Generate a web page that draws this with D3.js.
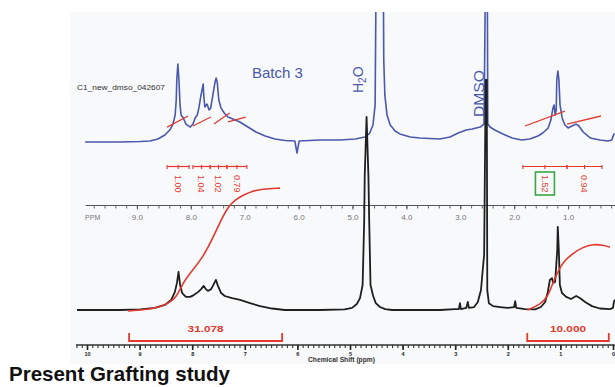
<!DOCTYPE html>
<html>
<head>
<meta charset="utf-8">
<script src="https://cdn.jsdelivr.net/npm/d3@7"></script>
<style>
  body { margin: 0; background: #fff; }
  svg { display: block; font-family: "Liberation Sans", Arial, sans-serif; }
</style>
</head>
<body>
<script>
// upper trace (batch 3), [ppm, intensity]
const blueSpectrum = [
  [9.96,0],[9.31,0],[8.94,0.4],[8.76,0.8],[8.61,2.3],[8.48,5.4],[8.39,9.2],[8.33,13.8],[8.29,20.8],[8.27,32.3],
  [8.26,47.7],[8.24,60],[8.22,47.7],[8.20,28.5],[8.18,20.8],[8.14,18.5],[8.09,13.8],[8.01,11.5],[7.96,13.8],
  [7.92,18.5],[7.88,20.8],[7.85,26.2],[7.81,36.2],[7.77,44.6],[7.76,36.2],[7.74,26.9],[7.70,29.2],[7.66,24.6],
  [7.63,26.2],[7.59,36.2],[7.55,46.2],[7.53,49.2],[7.51,46.2],[7.48,32.3],[7.44,26.2],[7.38,22.3],[7.31,19.2],
  [7.22,17.7],[7.09,15.4],[6.94,11.5],[6.79,7.7],[6.62,4.6],[6.44,2.3],[6.25,1.2],[6.07,0.8],[6.03,-8.5],
  [5.99,0.8],[5.60,1.5],[5.23,1.5],[4.95,2.3],[4.77,3.8],[4.68,6.9],[4.62,13.1],[4.58,28.5],[4.56,140],
  [4.43,140],[4.42,63.1],[4.40,36.2],[4.36,20.8],[4.30,13.1],[4.21,8.5],[4.12,6.2],[3.93,3.8],[3.75,3.1],
  [3.38,2.3],[3.19,3.8],[3.04,6.9],[2.89,9.2],[2.78,10],[2.63,11.5],[2.56,13.8],[2.53,140],[2.50,140],
  [2.49,13.8],[2.45,11.5],[2.36,9.2],[2.21,6.2],[2.04,3.1],[1.86,1.5],[1.71,2.3],[1.56,4.6],[1.47,6.9],
  [1.37,10.8],[1.32,16.9],[1.28,26.2],[1.26,28.5],[1.24,20.8],[1.22,24.6],[1.21,47.7],[1.19,54.6],[1.17,47.7],
  [1.15,28.5],[1.11,18.5],[1.06,13.1],[1.00,10.8],[0.93,12.3],[0.85,13.8],[0.80,12.3],[0.72,7.7],[0.59,3.1],
  [0.41,1.5],[0.26,0.8],[0.19,1.5],[0.15,6.2],[0.13,6.2]
];

// lower trace, [ppm, intensity]
const blackSpectrum = [
  [10.19,0],[9.37,0],[8.99,0.2],[8.71,0.7],[8.52,1.7],[8.40,3.4],[8.33,6.0],[8.29,9.1],[8.26,12.8],[8.23,8.4],
  [8.19,5.7],[8.12,4.4],[8.04,4.4],[7.97,5.0],[7.89,6.0],[7.83,7.0],[7.78,8.1],[7.74,7.0],[7.70,6.4],[7.64,7.0],
  [7.59,8.7],[7.55,10.1],[7.51,8.1],[7.45,5.7],[7.38,4.7],[7.24,4.0],[7.09,3.4],[6.90,2.3],[6.71,1.3],[6.48,0.5],
  [6.24,0],[5.57,0],[5.10,0.2],[4.96,0.7],[4.87,2.0],[4.81,4.0],[4.76,8.4],[4.73,30],[4.72,45],[4.685,64.8],
  [4.65,45],[4.635,30],[4.61,8.4],[4.56,4.7],[4.51,2.3],[4.43,1.0],[4.33,0.3],[4.20,0],[3.86,0],[3.29,0],[3.00,0.3],
  [2.93,0.3],[2.91,2.3],[2.89,0.3],[2.79,0.7],[2.76,2.7],[2.74,0.7],[2.64,1.0],[2.57,2.7],[2.51,6.7],[2.48,12.8],
  [2.45,18.5],[2.42,77.2],[2.40,77.2],[2.39,6.7],[2.36,2.3],[2.28,1.3],[2.15,1.0],[2.00,0.7],[1.88,1.0],[1.86,3.0],
  [1.84,0.7],[1.67,0.3],[1.48,0.2],[1.37,1.0],[1.29,2.7],[1.24,6.0],[1.20,10.1],[1.16,10.7],[1.14,9.1],[1.10,9.4],
  [1.06,20.1],[1.05,27.9],[1.03,20.1],[1.01,8.4],[0.97,5.7],[0.89,4.4],[0.80,3.7],[0.70,4.7],[0.63,4.0],[0.53,2.7],
  [0.40,1.3],[0.25,0.5],[0.06,0.3],[0,0.7],[-0.02,3.0],[-0.04,3.4]
];

// integral curves on the lower trace
const integralLeft = [
  [9.22,-0.3],[8.86,0],[8.48,1.7],[8.29,4.4],[8.19,8.7],[8.04,12.4],[7.79,17.8],[7.60,24.5],[7.47,29.5],
  [7.32,34.6],[7.19,36.9],[7.03,38.6],[6.86,39.9],[6.67,40.6],[6.33,40.9]
];
const integralRight = [
  [1.63,0],[1.39,1.7],[1.24,4.4],[1.16,8.4],[1.06,12.4],[0.95,16.1],[0.76,19.1],[0.57,21.1],[0.38,22.1],
  [0.19,21.8],[0.06,21.1]
];

// short integral slopes on the upper trace: [ppmStart, intStart, ppmEnd, intEnd]
const topIntegralSegs = [
  [8.44,11.5,8.05,20.0],[7.96,12.3,7.63,19.2],[7.57,13.8,7.28,22.3],[7.31,15.4,6.98,19.2],
  [1.80,12.3,1.06,23.8],[1.02,13.8,0.39,20.0]
];

// integration regions above the ppm axis
const topRegions = [[8.44,8.03],[7.96,7.64],[7.64,7.33],[7.33,6.96],[1.84,1.02],[1.02,0.37]];
const topRegionLabels = ["1.00","1.04","1.02","0.79","1.52","0.94"];
const boxedRegion = 4;

// integration brackets under the lower trace
const bottomBrackets = [[9.20,6.29],[1.63,0.08]];
const bottomBracketLabels = ["31.078","10.000"];

const ppmMajor = [9,8,7,6,5,4,3,2,1];
const bottomMajor = [10,9,8,7,6,5,4,3,2,1,0];

const W = 615, H = 387;
const blue = "#4a58ad", red = "#e3392f", ink = "#1f1f1f";

const svg = d3.select("body").append("svg").attr("width", W).attr("height", H);

svg.append("rect").attr("x", 70).attr("y", 12).attr("width", 545).attr("height", 352).attr("fill", "#f8f9fa");

svg.append("clipPath").attr("id", "clip")
  .append("rect").attr("x", 0).attr("y", 12).attr("width", W).attr("height", H - 12);

const xTop = d3.scaleLinear().domain([10, 0]).range([83, 622]);
const yTop = d3.scaleLinear().domain([0, 100]).range([142, 12]);
const xBot = d3.scaleLinear().domain([10, 0]).range([87, 613]);
const yBot = d3.scaleLinear().domain([0, 100]).range([310, 12]);

const lineTop = d3.line().x(d => xTop(d[0])).y(d => yTop(d[1]));
const lineBot = d3.line().x(d => xBot(d[0])).y(d => yBot(d[1]));
const curveBot = d3.line().x(d => xBot(d[0])).y(d => yBot(d[1])).curve(d3.curveBasis);

// ppm axis in the middle
const axisY = 205.5;
const topAxisG = svg.append("g").attr("transform", `translate(0,${axisY})`);
topAxisG.append("line")
  .attr("x1", xTop(9.95)).attr("x2", xTop(0.13))
  .attr("stroke", "#555").attr("stroke-width", 1.2);
topAxisG.append("g")
  .call(d3.axisBottom(xTop).tickValues(d3.range(9.8, 0.1, -0.2)).tickSize(3).tickFormat(""))
  .call(g => g.select(".domain").remove())
  .call(g => g.selectAll("line").attr("stroke", "#666"));
topAxisG.append("g")
  .call(d3.axisBottom(xTop).tickValues(ppmMajor).tickSize(4).tickPadding(5).tickFormat(d3.format(".1f")))
  .call(g => g.select(".domain").remove())
  .call(g => g.selectAll("line").attr("stroke", "#555"))
  .call(g => g.selectAll("text").attr("fill", "#777").attr("font-size", 8));
topAxisG.append("text")
  .attr("x", xTop(9.82)).attr("y", 14)
  .attr("text-anchor", "middle").attr("font-size", 7).attr("fill", "#777")
  .text("PPM");

// lower axis
const botY = 345;
const botAxisG = svg.append("g").attr("transform", `translate(0,${botY})`);
botAxisG.append("line")
  .attr("x1", xBot(10.21)).attr("x2", xBot(-0.04))
  .attr("stroke", "#333").attr("stroke-width", 1.4);
botAxisG.append("g")
  .call(d3.axisBottom(xBot).tickValues(d3.range(10.2, -0.05, -0.1)).tickSize(3).tickFormat(""))
  .call(g => g.select(".domain").remove())
  .call(g => g.selectAll("line").attr("stroke", "#333").attr("stroke-width", 1.1));
botAxisG.append("g")
  .call(d3.axisBottom(xBot).tickValues(bottomMajor).tickSize(5).tickPadding(2).tickFormat(d3.format("d")))
  .call(g => g.select(".domain").remove())
  .call(g => g.selectAll("line").attr("stroke", "#222").attr("stroke-width", 1.6))
  .call(g => g.selectAll("text").attr("fill", "#222").attr("font-size", 5.5).attr("font-weight", "bold"));
svg.append("text")
  .attr("x", 308).attr("y", 362)
  .attr("font-size", 7).attr("font-weight", "bold").attr("fill", "#333")
  .attr("textLength", 67).attr("lengthAdjust", "spacingAndGlyphs")
  .text("Chemical Shift (ppm)");

// spectra
const plot = svg.append("g").attr("clip-path", "url(#clip)");
plot.append("path").datum(blueSpectrum)
  .attr("d", lineTop).attr("fill", "none")
  .attr("stroke", blue).attr("stroke-width", 1.6).attr("stroke-linejoin", "round");
plot.append("path").datum(blackSpectrum)
  .attr("d", lineBot).attr("fill", "none")
  .attr("stroke", ink).attr("stroke-width", 1.8).attr("stroke-linejoin", "round");

// integral curves
plot.selectAll(".integral").data([integralLeft, integralRight]).enter().append("path")
  .attr("class", "integral")
  .attr("d", curveBot).attr("fill", "none")
  .attr("stroke", red).attr("stroke-width", 1.6);

svg.selectAll(".seg").data(topIntegralSegs).enter().append("line")
  .attr("class", "seg")
  .attr("x1", d => xTop(d[0])).attr("y1", d => yTop(d[1]))
  .attr("x2", d => xTop(d[2])).attr("y2", d => yTop(d[3]))
  .attr("stroke", red).attr("stroke-width", 1.3);

// integration rulers above the axis
const rulerY = 166.5;
const rg = svg.selectAll(".region").data(topRegions).enter().append("g").attr("class", "region");
rg.append("line")
  .attr("x1", d => xTop(d[0])).attr("x2", d => xTop(d[1]))
  .attr("y1", rulerY).attr("y2", rulerY)
  .attr("stroke", red).attr("stroke-width", 1.2);
rg.selectAll(".tk").data(d => [d[0], (d[0] + d[1]) / 2, d[1]]).enter().append("line")
  .attr("x1", v => xTop(v)).attr("x2", v => xTop(v))
  .attr("y1", rulerY - 1.5).attr("y2", rulerY + 2.5)
  .attr("stroke", red).attr("stroke-width", 1.1);
rg.append("text")
  .attr("transform", d => `translate(${xTop((d[0] + d[1]) / 2)},175) rotate(90)`)
  .attr("dy", "0.35em")
  .attr("font-size", 9).attr("fill", red)
  .text((d, i) => topRegionLabels[i]);
const bx = xTop((topRegions[boxedRegion][0] + topRegions[boxedRegion][1]) / 2);
svg.append("rect")
  .attr("x", bx - 9.5).attr("y", 172).attr("width", 19).attr("height", 23)
  .attr("fill", "none").attr("stroke", "#3aa746").attr("stroke-width", 1.6);

// integration brackets below the lower trace
const bg = svg.selectAll(".bracket").data(bottomBrackets).enter().append("g").attr("class", "bracket");
bg.append("path")
  .attr("d", d => `M${xBot(d[0])},333V341H${xBot(d[1])}V333`)
  .attr("fill", "none").attr("stroke", red).attr("stroke-width", 1.8);
bg.append("text")
  .attr("x", d => xBot((d[0] + d[1]) / 2)).attr("y", 332)
  .attr("text-anchor", "middle").attr("font-size", 9).attr("font-weight", "bold").attr("fill", red)
  .attr("textLength", 36).attr("lengthAdjust", "spacingAndGlyphs")
  .text((d, i) => bottomBracketLabels[i]);

// labels
svg.append("text")
  .attr("x", 252).attr("y", 78)
  .attr("font-size", 15).attr("fill", blue)
  .text("Batch 3");
svg.append("text")
  .attr("x", 77).attr("y", 90)
  .attr("font-size", 7).attr("fill", "#333")
  .attr("textLength", 88).attr("lengthAdjust", "spacingAndGlyphs")
  .text("C1_new_dmso_042607");

const h2o = svg.append("text")
  .attr("transform", "translate(363,93) rotate(-90)")
  .attr("font-size", 14).attr("fill", blue);
h2o.append("tspan").text("H");
h2o.append("tspan").attr("font-size", 10).attr("dy", 3).text("2");
h2o.append("tspan").attr("dy", -3).text("O");

svg.append("text")
  .attr("transform", "translate(484,117) rotate(-90)")
  .attr("font-size", 14).attr("fill", blue)
  .attr("textLength", 47).attr("lengthAdjust", "spacingAndGlyphs")
  .text("DMSO");

svg.append("text")
  .attr("x", 9).attr("y", 381)
  .attr("font-size", 20.5).attr("font-weight", "bold").attr("fill", "#111")
  .attr("textLength", 221).attr("lengthAdjust", "spacingAndGlyphs")
  .text("Present Grafting study");
</script>
</body>
</html>
